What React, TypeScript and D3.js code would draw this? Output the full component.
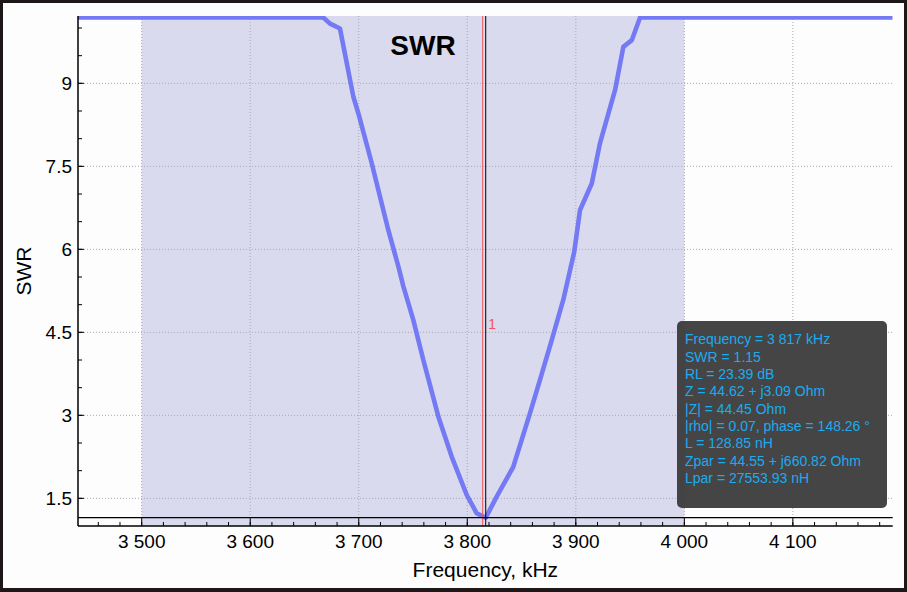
import React from "react";
import * as d3 from "d3";

const W = 907;
const H = 592;

// Data
const freqs = [3441, 3667.3, 3673.5, 3682.7, 3695.0, 3699.6, 3711.9, 3719.6, 3727.2, 3736.5, 3741.1, 3750.3, 3759.5, 3773.3, 3785.7, 3799.5, 3808.7, 3814.8, 3817, 3827.1, 3842.4, 3857.8, 3867.0, 3877.8, 3888.5, 3898.5, 3903.9, 3914.7, 3922.3, 3936.2, 3943.8, 3951.6, 3959.2, 4192];
const swr = [10.19, 10.19, 10.08, 9.99, 8.76, 8.46, 7.56, 6.95, 6.35, 5.69, 5.33, 4.72, 4.0, 2.98, 2.25, 1.56, 1.23, 1.17, 1.15, 1.53, 2.07, 3.04, 3.64, 4.36, 5.09, 5.95, 6.71, 7.19, 7.92, 8.88, 9.66, 9.78, 10.19, 10.19];

const xMajorTicks = [3500, 3600, 3700, 3800, 3900, 4000, 4100];
const xMinorTicks = d3.range(3460, 4192, 20);
const yMajorTicks = [1.5, 3, 4.5, 6, 7.5, 9];
const yMinorTicks = d3.range(1.5, 10.21, 0.5);
const bandRange = [3500, 4000];
const markerFreq = 3814.2;
const cursorFreq = 3817;
const cursorSwr = 1.15;
const title = "SWR";
const xLabel = "Frequency, kHz";
const yLabel = "SWR";
const infoLines = [
  "Frequency = 3 817 kHz",
  "SWR = 1.15",
  "RL = 23.39 dB",
  "Z = 44.62 + j3.09 Ohm",
  "|Z| = 44.45 Ohm",
  "|rho| = 0.07, phase = 148.26 °",
  "L = 128.85 nH",
  "Zpar = 44.55 + j660.82 Ohm",
  "Lpar = 27553.93 nH",
];

const fmtFreq = (v: number) => {
  const s = String(v);
  return s.length > 3 ? s.slice(0, s.length - 3) + " " + s.slice(-3) : s;
};

export default function App() {
  const left = 78, right = 892.7, top = 16, bottom = 526;
  const x = d3.scaleLinear().domain([3441.3, 4192]).range([left, right]);
  const y = d3.scaleLinear().domain([1, 10.217]).range([bottom, top]);
  const pts = freqs.map((f, i) => [f, swr[i]] as [number, number]);
  const line = d3
    .line<[number, number]>()
    .x((d) => x(d[0]))
    .y((d) => y(d[1]));
  const font = "'Liberation Sans', Arial, sans-serif";
  const gridColor = "#a9a9b4";

  return (
    <svg
      width={W}
      height={H}
      style={{ position: "absolute", left: 0, top: 0, display: "block" }}
      xmlns="http://www.w3.org/2000/svg"
    >
      <rect x={0} y={0} width={W} height={H} fill="#1e1717" />
      <rect x={3} y={3} width={W - 6} height={H - 7} fill="#fdfdfd" />
      <defs>
        <clipPath id="plotClip">
          <rect x={left} y={top} width={right - left} height={bottom - top} />
        </clipPath>
      </defs>
      {/* band */}
      <rect
        x={x(bandRange[0])}
        y={top}
        width={x(bandRange[1]) - x(bandRange[0])}
        height={bottom - top}
        fill="#dadaee"
      />
      {/* grid */}
      {xMajorTicks.map((t) => (
        <line key={"gx" + t} x1={x(t)} x2={x(t)} y1={top} y2={bottom} stroke={gridColor} strokeWidth={1} strokeDasharray="1 2" />
      ))}
      {yMajorTicks.map((t) => (
        <line key={"gy" + t} x1={left} x2={right} y1={y(t)} y2={y(t)} stroke={gridColor} strokeWidth={1} strokeDasharray="1 2" />
      ))}
      {/* title */}
      <text x={423} y={55} textAnchor="middle" fontFamily={font} fontWeight="bold" fontSize={28} fill="#000">
        {title}
      </text>
      {/* curve */}
      <g clipPath="url(#plotClip)">
        <path d={line(pts) || ""} fill="none" stroke="#7479f4" strokeWidth={4.6} strokeLinejoin="round" />
      </g>
      {/* markers */}
      <line x1={x(markerFreq)} x2={x(markerFreq)} y1={top} y2={bottom} stroke="#f25555" strokeWidth={1} />
      <text x={x(markerFreq) + 5.5} y={329} fontFamily={font} fontSize={14} fill="#f25555">1</text>
      <line x1={x(cursorFreq)} x2={x(cursorFreq)} y1={top} y2={bottom} stroke="#000" strokeWidth={1} />
      <line x1={left} x2={right} y1={y(cursorSwr)} y2={y(cursorSwr)} stroke="#000" strokeWidth={1.2} />
      {/* axes */}
      <line x1={left} x2={right} y1={bottom} y2={bottom} stroke="#000" strokeWidth={1.5} />
      <line x1={left} x2={left} y1={top} y2={bottom} stroke="#000" strokeWidth={1.5} />
      {xMinorTicks.map((t) => (
        <line key={"xm" + t} x1={x(t)} x2={x(t)} y1={bottom} y2={bottom - 4} stroke="#000" strokeWidth={1} />
      ))}
      {xMajorTicks.map((t) => (
        <g key={"xM" + t}>
          <line x1={x(t)} x2={x(t)} y1={bottom} y2={bottom - 8} stroke="#000" strokeWidth={1} />
          <text x={x(t)} y={548} textAnchor="middle" fontFamily={font} fontSize={19} fill="#000">
            {fmtFreq(t)}
          </text>
        </g>
      ))}
      {yMinorTicks.map((t) => (
        <line key={"ym" + t} x1={left} x2={left + 4} y1={y(t)} y2={y(t)} stroke="#000" strokeWidth={1} />
      ))}
      {yMajorTicks.map((t) => (
        <g key={"yM" + t}>
          <line x1={left} x2={left + 6} y1={y(t)} y2={y(t)} stroke="#000" strokeWidth={1} />
          <text x={72} y={y(t)} dy="0.36em" textAnchor="end" fontFamily={font} fontSize={19} fill="#000">
            {String(t)}
          </text>
        </g>
      ))}
      <text x={(left + right) / 2} y={577} textAnchor="middle" fontFamily={font} fontSize={21} fill="#000">
        {xLabel}
      </text>
      <text transform={`translate(31,${(top + bottom) / 2}) rotate(-90)`} textAnchor="middle" fontFamily={font} fontSize={21} fill="#000">
        {yLabel}
      </text>
      {/* info box */}
      <rect x={677} y={321} width={210} height={187} rx={5} ry={5} fill="#3b3b3b" fillOpacity={0.95} />
      {infoLines.map((s, i) => (
        <text key={"info" + i} x={685} y={344.3 + i * 17.35} fontFamily={font} fontSize={14} fill="#1cabef">
          {s}
        </text>
      ))}
    </svg>
  );
}
